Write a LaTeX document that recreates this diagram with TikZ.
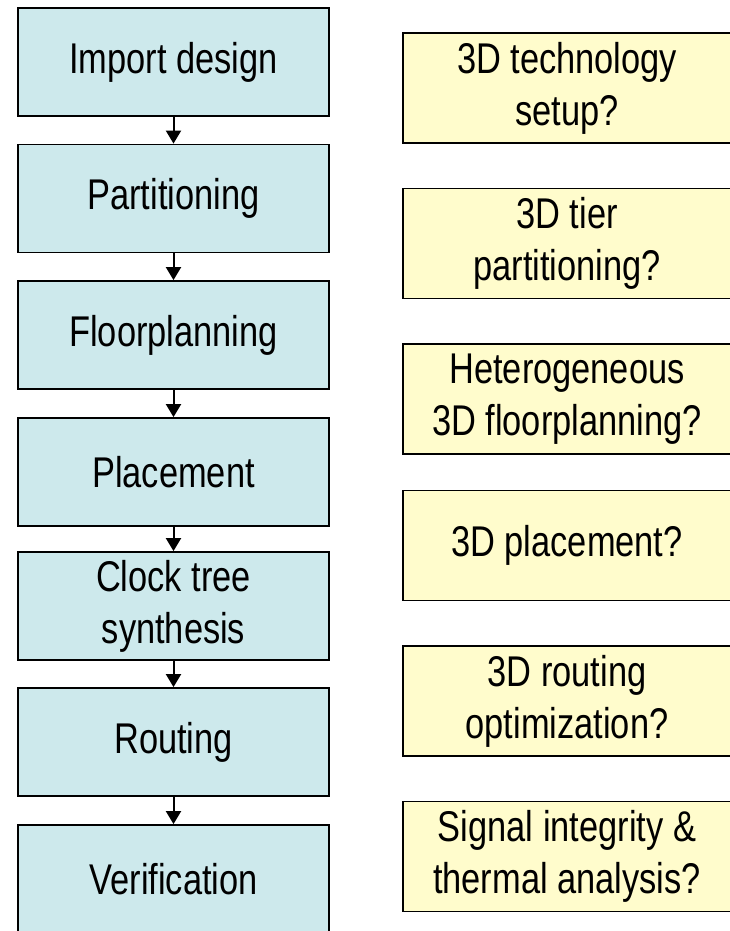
\documentclass[tikz,border=0pt]{standalone}
\usepackage{fontspec}
\setmainfont[FakeStretch=0.8]{Liberation Sans}
\usetikzlibrary{arrows.meta}
\definecolor{stepfill}{RGB}{205,233,236}
\definecolor{notefill}{RGB}{255,252,204}
\begin{document}
\begin{tikzpicture}[x=1pt,y=-1pt,
  stepbox/.style={draw=black,line width=1.8pt,fill=stepfill,minimum width=311pt,minimum height=108pt,inner sep=0pt,align=center,font=\fontsize{43}{52}\selectfont},
  notebox/.style={draw=black,line width=1.8pt,fill=notefill,minimum width=328pt,minimum height=110pt,inner sep=0pt,align=center,font=\fontsize{43}{52}\selectfont},
  flow/.style={line width=2pt,-{Triangle[width=15pt,length=13pt]}}]
\path[use as bounding box,clip] (0,0) rectangle (730,931);
\fill[white] (0,0) rectangle (730,931);
\node[stepbox] (s1) at (173.5,62) {Import design};
\node[stepbox] (s2) at (173.5,198.5) {Partitioning};
\node[stepbox] (s3) at (173.5,335) {Floorplanning};
\node[stepbox] (s4) at (173.5,472) {Placement};
\node[stepbox] (s5) at (173.5,606) {Clock tree\\synthesis};
\node[stepbox] (s6) at (173.5,742) {Routing};
\node[stepbox] (s7) at (173.5,879) {Verification};
\draw[flow] (s1.south) -- (s2.north);
\draw[flow] (s2.south) -- (s3.north);
\draw[flow] (s3.south) -- (s4.north);
\draw[flow] (s4.south) -- (s5.north);
\draw[flow] (s5.south) -- (s6.north);
\draw[flow] (s6.south) -- (s7.north);
\node[notebox] (n1) at (567,88) {3D technology\\setup?};
\node[notebox] (n2) at (567,243.5) {3D tier\\partitioning?};
\node[notebox] (n3) at (567,399) {Heterogeneous\\3D floorplanning?};
\node[notebox] (n4) at (567,545.5) {3D placement?};
\node[notebox] (n5) at (567,701) {3D routing\\optimization?};
\node[notebox] (n6) at (567,856.5) {Signal integrity \&\\thermal analysis?};
\end{tikzpicture}
\end{document}
